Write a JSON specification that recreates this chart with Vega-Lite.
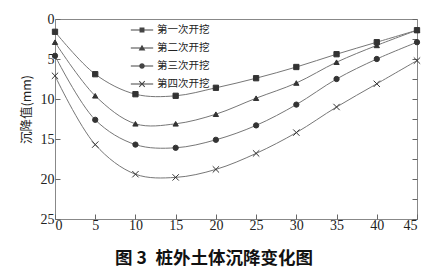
{
  "$schema": "https://vega.github.io/schema/vega-lite/v6.json",
  "width": 362,
  "height": 200,
  "autosize": {"type": "none"},
  "padding": {"left": 55, "top": 19, "right": 20, "bottom": 55},
  "background": "white",
  "config": {
    "view": {"stroke": "#888", "strokeWidth": 1},
    "axis": {"labelFont": "Liberation Serif", "labelFontSize": 14, "labelColor": "#222", "domain": false, "grid": false, "tickColor": "#666", "ticks": true, "tickSize": -5},
    "legend": {"labelFont": "Noto Sans CJK SC", "labelFontSize": 10.5, "labelColor": "#222"}
  },
  "title": {"text": "图 3\u2002桩外土体沉降变化图", "orient": "bottom", "anchor": "middle", "dx": -22, "offset": 18, "font": "Noto Sans CJK SC", "fontSize": 17.5, "fontWeight": "bold", "color": "#111"},
  "data": {"values": [
    {"s": "第一次开挖", "x": 0, "y": 1.6},
    {"s": "第一次开挖", "x": 5, "y": 6.9},
    {"s": "第一次开挖", "x": 10, "y": 9.4},
    {"s": "第一次开挖", "x": 15, "y": 9.6},
    {"s": "第一次开挖", "x": 20, "y": 8.6},
    {"s": "第一次开挖", "x": 25, "y": 7.4},
    {"s": "第一次开挖", "x": 30, "y": 6.0},
    {"s": "第一次开挖", "x": 35, "y": 4.4},
    {"s": "第一次开挖", "x": 40, "y": 2.9},
    {"s": "第一次开挖", "x": 45, "y": 1.4},
    {"s": "第二次开挖", "x": 0, "y": 2.9},
    {"s": "第二次开挖", "x": 5, "y": 9.6},
    {"s": "第二次开挖", "x": 10, "y": 13.1},
    {"s": "第二次开挖", "x": 15, "y": 13.1},
    {"s": "第二次开挖", "x": 20, "y": 11.9},
    {"s": "第二次开挖", "x": 25, "y": 9.9},
    {"s": "第二次开挖", "x": 30, "y": 8.0},
    {"s": "第二次开挖", "x": 35, "y": 5.4},
    {"s": "第二次开挖", "x": 40, "y": 3.3},
    {"s": "第二次开挖", "x": 45, "y": 1.4},
    {"s": "第三次开挖", "x": 0, "y": 4.6},
    {"s": "第三次开挖", "x": 5, "y": 12.6},
    {"s": "第三次开挖", "x": 10, "y": 15.7},
    {"s": "第三次开挖", "x": 15, "y": 16.1},
    {"s": "第三次开挖", "x": 20, "y": 15.1},
    {"s": "第三次开挖", "x": 25, "y": 13.3},
    {"s": "第三次开挖", "x": 30, "y": 10.7},
    {"s": "第三次开挖", "x": 35, "y": 7.5},
    {"s": "第三次开挖", "x": 40, "y": 5.0},
    {"s": "第三次开挖", "x": 45, "y": 2.9},
    {"s": "第四次开挖", "x": 0, "y": 7.1},
    {"s": "第四次开挖", "x": 5, "y": 15.7},
    {"s": "第四次开挖", "x": 10, "y": 19.4},
    {"s": "第四次开挖", "x": 15, "y": 19.8},
    {"s": "第四次开挖", "x": 20, "y": 18.8},
    {"s": "第四次开挖", "x": 25, "y": 16.8},
    {"s": "第四次开挖", "x": 30, "y": 14.2},
    {"s": "第四次开挖", "x": 35, "y": 11.0},
    {"s": "第四次开挖", "x": 40, "y": 8.1},
    {"s": "第四次开挖", "x": 45, "y": 5.2}
  ]},
  "resolve": {"axis": {"y": "independent"}, "scale": {"shape": "independent"}, "legend": {"shape": "independent"}},
  "layer": [
    {
      "mark": {"type": "line", "interpolate": "catmull-rom", "color": "#777", "strokeWidth": 1},
      "encoding": {
        "x": {"field": "x", "type": "quantitative", "scale": {"domain": [0, 45], "nice": false}, "axis": {"values": [0, 5, 10, 15, 20, 25, 30, 35, 40, 45], "title": null, "labelPadding": 4}},
        "y": {"field": "y", "type": "quantitative", "scale": {"domain": [0, 25], "reverse": true, "nice": false}, "axis": {"values": [0, 5, 10, 15, 20, 25], "title": "沉降值(mm)", "titleFont": "Noto Sans CJK SC", "titleFontSize": 12.5, "titleFontWeight": "normal", "titleColor": "#222", "titlePadding": 7, "titleY": 90, "labelPadding": 6}},
        "detail": {"field": "s"}
      }
    },
    {
      "mark": {"type": "point", "filled": true, "color": "#333", "stroke": "#333", "strokeWidth": 1, "opacity": 1, "size": 28},
      "encoding": {
        "x": {"field": "x", "type": "quantitative"},
        "y": {"field": "y", "type": "quantitative", "axis": {"orient": "right", "values": [0, 2.5, 5, 7.5, 10, 12.5, 15, 17.5, 20, 22.5, 25], "labels": false, "title": null}},
        "shape": {"field": "s", "type": "nominal", "legend": null, "scale": {"domain": ["第一次开挖", "第二次开挖", "第三次开挖", "第四次开挖"], "range": ["square", "triangle-up", "circle", "M-1.2,-1.2L1.2,1.2M1.2,-1.2L-1.2,1.2"]}}
      }
    },
    {
      "mark": {"type": "point", "filled": true, "color": "#444", "opacity": 0, "size": 1},
      "encoding": {
        "x": {"field": "x", "type": "quantitative"},
        "y": {"field": "y", "type": "quantitative", "axis": null},
        "shape": {"field": "s", "type": "nominal",
          "scale": {"domain": ["第一次开挖", "第二次开挖", "第三次开挖", "第四次开挖"], "range": [
            "M-1,-0.045H1V0.045H-1Z M-0.22,-0.22H0.22V0.22H-0.22Z",
            "M-1,-0.045H1V0.045H-1Z M0,-0.3L0.3,0.22H-0.3Z",
            "M-1,-0.045H1V0.045H-1Z M0.25,0A0.25,0.25,0,1,1,-0.25,0A0.25,0.25,0,1,1,0.25,0Z",
            "M-1,-0.045H1V0.045H-1Z M-0.28,-0.22L-0.22,-0.28L0.28,0.22L0.22,0.28Z M0.22,-0.28L0.28,-0.22L-0.22,0.28L-0.28,0.22Z"]},
          "legend": {"title": null, "orient": "none", "legendX": 75, "legendY": -1, "symbolSize": 500, "symbolOpacity": 1, "symbolFillColor": "#444", "labelOffset": 3, "rowPadding": -8.5}}
      }
    }
  ]
}
